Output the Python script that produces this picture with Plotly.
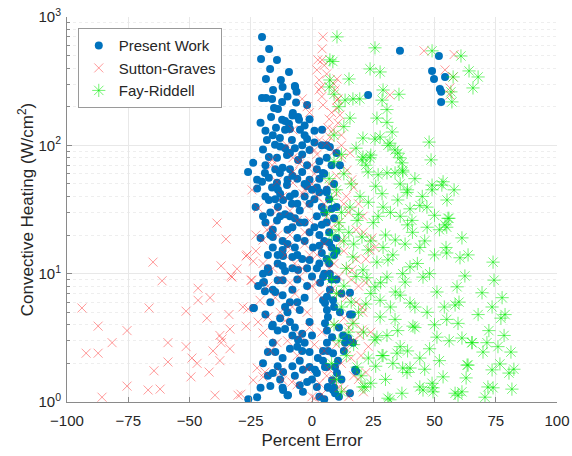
import plotly.graph_objects as go

present_work = [
    (-20.4,700),(-17.5,564),(-20.8,471),(-14.3,463),(-17.1,394),(-9.4,373),(-18.8,329),(-12.7,323),(-15.9,270),(-6.9,285),
    (-6.3,261),(-20.4,234),(-18.8,234),(-16.3,230),(-12.2,218),(-6.5,216),(-2,206),(-15.5,195),(-13.9,192),(-7.8,179),
    (-16.7,166),(-12.2,158),(-5.7,166),(-5.3,158),(-9.4,147),(-14.7,137),(-11,132),(-9,134),(-4.9,132),(4.1,132),
    (-18.4,110),(-13.1,114),(-8.2,110),(-2,112),(-15.1,101),(-11,95),(-20,93),(-17.6,81),(-24,73),(-14.3,80),
    (-10.2,84),(-26.1,62),(-19.2,61),(-17.6,56),(-22.4,54),(-13.1,61),(-14.3,51),(-16.3,47),(-13.9,45),(-10.2,49),
    (-22.4,46),(-17.6,37.5),(-11.8,37.5),(-13.9,33),(-8.2,35),(-1,160),(-3,120),(1,105),(-7,290),(-8,171),(-11,155),
    (35.9,545),(51.8,497),(49,380),(49.8,329),(54.3,341),(52.2,275),(52.7,261),(52.7,218),(22.9,247),
    (-20.4,52),(-17,30),(-14.3,26),(-16,22),(-10,22),(-8,23),(-12,18),(-16,16),(-12,15.3),(-7,16),
    (-6,14),(-8,11),(-5.7,10.7),(-10,54),(-4,62),(-2,70),(-5.7,77),(-12,67),(-9,87),(-1,92),
    (-1,54),(2,47),(-1,35),(-5,31),(2,28),(-1,21),(3,20),(0.4,16),(4,14.5),(-1,12.8),(2,11),
    (-19,25),(-21,19),(-18,14),(-14,12),(-11,10.5),(-3,40),(-7,42),(-3,25),(-6,19),(-9,28),(-4,13),(0,9.5),
    (5,60),(6,45),(7,38),(5,30),(6,25),(7,21),(5,18),(8,16),(6,13),(7,12),(5,10),(8,9),(6,80),(4,100),(3,75),
    (-2,48),(-8,58),(-13,42),(-6,35),(-19,40),(-23,33),(-20,28),(-11,29),(1,38),(3,55),(8,70),(9,50),(10,33),
    (9,27),(10,19),(3,16.5),(9,14),(7.3,97),(10,87),(11.4,70),(4.5,61),(6,43),(8,32),(4,24),(7,17.5),(10,15),
    (-20,10),(-12,8.9),(-14,8.9),(-20,8.5),(-15,7.2),(-24,5.4),(-17,6),(-9,6),(-11,5.5),(-5,5.2),(-10,5),
    (-16,4),(-14,3.6),(-18,2.45),(-15,2.45),(-16,2.9),(-5.7,3.05),(-6,2.7),(-3.7,1.78),(-1,1.87),(2,1.68),
    (-2,1.43),(-21,1.29),(-17,1.33),(-12,1.29),(-10,1.13),(-22.4,1.09),(-26,1.05),(-16,1.68),(-18,1.6),
    (-3.7,1.2),(2,1.31),(-1,2.45),(2.4,2.2),(-5,2.1),(-4,2.5),(0,3.3),(-1,4.2),(4.5,2.5),(5.3,1.87),(6.5,1.29),(1.2,1.78),
    (4.5,6.2),(6.1,6.6),(5.3,5.9),(6.1,5.2),(6.5,4.6),(5.3,4.1),(6.1,3.6),(8.2,3.2),(6.1,2.9),(6.5,2.5),
    (8.6,2.4),(4.5,2.1),(6.1,1.87),(9.4,1.87),(10.2,1.68),(8.2,1.48),(6.5,1.31),(8.6,1.24),(9.4,1.17),(15.5,1.17),
    (13.5,2.9),(16.3,4.8),(16.7,2.9),(17.6,1.78),(15.5,7.1),(3.3,8.5),(4.5,9.4),(7.3,10),(11.4,5.0),(8.6,6.2),
    (7.3,7.5),(12.7,3.3),(10.6,2.1),(-8,1.9),(-12,2.2),(-7,3.8),(-3,6.5),(-8,7.5),(-2,8),(-6,9),(-20,2),(-13,1.5),
    (18,1.74),(14.7,3.15),(15.5,4.8),(-23.7,5.4),(-19.6,8.6),(-19.2,7.3),(-16.3,3.9),(-11.8,1.71),(-9.8,1.13),
    (-11.8,1.24),(-17.6,10.3),(-16,19.3),(-11.8,13.7),(-9,4.2),(-4,3.4),
    (-21,150),(-19,130),(-16,120),(-13,98),(-7,95),(-4,85),(-19,70),(-15,65),(-9,65),(-6,55),(-3,50),(0,45),
    (-15,38),(-9,40),(-5,25),(-13,28),(-17,20),(-7,27),(-10,17),(-14,14),(-3,18),(-2,11),(-8,13.5),(-12,11.5),
    (-18,11),(-22,8),(-16,7.5),(-12,6.8),(-6,6),(-13,4.5),(-19,4.8),(-8,3.3),(-11,3.7),(-3,2.9),(-9,2.6),
    (-14,1.9),(-7,1.6),(-5,1.35),(0,1.5),(3,1.1),(5,1.05),(9,1.3),(11,1.1),(12,1.5),(13,2.5),(11,3.8),(9,5.5),
    (12,7),(10,9),(3,12),(1,23),(4,33),(3,43),(2,65),(6,100),(-4,100),(1,130),(-3,143),(-10,240),(-12,285),
]

sutton_graves = [
    (-93.9,5.4),(-87.3,3.9),(-92.2,2.4),(-87.3,2.4),(-81.6,2.9),(-75.5,3.6),(-75.5,1.33),(-85.7,1.09),(-66.9,1.24),
    (-62,1.26),(-64.5,1.75),(-66.5,5.4),(-64.9,12.3),(-61.2,8.8),(-58.8,2.9),(-58.8,2.05),(-51.4,5.1),(-51.4,2.7),
    (-49.4,1.57),(-49,2.2),(-46.9,2.0),(-46.5,6.2),(-46.5,7.7),(-41.6,6.5),(-42.9,4.5),(-42,1.71),(-40.4,2.5),
    (-39.6,1.13),(-38.8,24.8),(-35.1,18.6),(-37.1,11.5),(-33.1,9.6),(-30.6,10.9),(-37.6,3.3),(-37.1,2.9),(-33.9,4.8),
    (-33.5,3.7),(-33.5,2.6),(-37.6,2.1),(-29,1.15),(-26.9,3.9),(-28.2,5.5),(-26.9,13.7),(-24.9,8.9),(-22.9,20),
    (-22.9,15),(-26.1,5.3),(-24.5,45),(-22,32.5),(-26.5,14),(-24,12.5),(-20,18.3),(-18.4,22),(-17,23),
    (-16.3,70),(-16.3,77),(-14.3,52),(-14.3,31),(-9,31),(-10.2,100),(-7.8,80),(-7.8,62),(-7.8,51),(-7.8,132),
    (-9.8,16.1),(-2.9,21),(-3.7,42),(-5,77),(1,92),(-4,230),(-2,200),
    (-22.4,1.84),(-19.2,1.71),(-24,1.48),(-20,1.57),(-30.2,1.13),(-13,1.71),(-12,1.48),(-8.2,1.43),(-6.1,1.36),
    (-4.9,3.3),(-20,3.45),(-14.3,2.9),(-18,4.6),(-21.2,6.2),(-9,8.5),(2,8.5),(1.2,1.07),(-11,4.3),(-15,6.5),
    (-24.5,8.9),(-32.7,9.4),(-36.7,3.1),
    (4.5,700),(4.1,565),(2.4,463),(4.1,463),(2,387),(2.9,323),(3.7,285),(2.9,270),(10.2,329),(9.4,270),(10.6,230),
    (4.5,206),(10.2,195),(11.4,172),(10.6,149),(8.6,132),(6.5,137),(7.3,116),(6.1,104),(5,420),(6,360),(9,300),
    (4,240),(10.2,225),(8,180),(7,160),(-1,180),
    (31.8,247),(45.7,545),(58,510),(54.3,387),(57.6,341),(56.3,280),(56.3,247),
    (14.3,64),(16.3,54),(15.5,87),(17,47),(14,40),(20.8,28),(24.5,19),(23.7,15.3),(25.7,16),(22,13),(20.8,5),
    (19.6,3.3),(17,3),(12,100),(12,80),(10,58),(13,35),(11,25),(15,30),(18,22),(12,18),(9,12),(14,11),(16,9),
    (11,7),(18,6),(13,4.5),(15,3.8),(10,2.8),(20,2.3),(12,2),(17,1.6),(9,1.5),(13,1.25),(21,1.2),(0,1.1),(3,1.4),
    (6,1.6),(1,2.8),(4,3.5),(-2,5),(3,6.8),(0,8),(-5,9.5),(7,11),(2,14),(5,17),(-1,26),(5,35),(-3,45),(1,60),
    (-5,72),(2,85),(-1,14),(-7,12),(-11,14),(-14,20),(-3,17),(0,50),(2,40),(6,28),(8,23),(-8,5.5),(-13,5),
    (-18,8),(-16,11),(-20,12),(-22,4.2),(-17,2.5),(-10,3),(-6,2.3),(-2,1.8),(4,1.15),(7,1.8),(11,1.3),(15,1.1),
    (19,1.5),(22,1.7),(16,2.2),(23,2.7),(20.4,5.5),(20.4,3.65),(16.3,10.7),(18,13),(14,6.5),(17,4.2),(9,4),
    (11,9.5),(8,7.5),(19,8),(13,15),(10,42),(7,50),(12,120),(9,90),(3,110),(0,70),(-2,34),(-6,26),(-12,40),
    (-9,20),(-4,11),(-13,9),(-7,7),(-1,3.8),(5,2.5),(14,2.6),(24,3.5),(22,8.5),(21,21),(19,35),
]

fay_riddell = [
    (10.2,700),(25.7,575),(7.3,463),(8.5,450),(23.7,394),(27.8,373),(15.1,329),(7.3,323),(7,285),(49,545),
    (60.8,497),(64.1,380),(67.8,341),(65.7,280),(57.6,341),(56.7,261),(57.1,218),(29,270),(35.5,250),(28.6,225),
    (30.6,190),(16.7,230),(19.5,230),(13.5,225),(9,250),(15.5,163),(26.5,163),(30.6,151),(32.7,127),(27.8,116),
    (20.8,114),(25.7,112),(47.8,106),(48.6,77),(31.8,104),(33.9,92),(35.9,80),(37.1,62),(33.9,61),(23.7,80),
    (20.4,77),(22.9,62),(53.5,52),(49,49),(55.1,37.5),(46.9,33),(55.5,27),(38.8,43),(40.8,26),(11,200),(13,140),
    (9,120),(18,95),(12,85),(24,84),(31,100),(35,87),(36.7,73),(30.6,61),(37,64),(20.8,81),(27,59),(39,45),
    (44,34),(49,45),(53,49),(50,28.5),(47,23),(52,22),(55,23),(44,16),(50,14),(55,14.5),(40,11.3),(31,12.8),
    (34,18.3),(39,24),(32,30),(35,37.5),(28.6,42),(19.6,40),(15.5,33),(18.4,26),(25,25),(20.4,19.3),(22.9,15.3),
    (16.7,13.5),(26.5,12.3),(20.8,10.7),(14,11),(11,25),(13,60),(16,50),(10,45),(12,30),(8,20),(10,15),(22,70),
    (26,48),(29,33),(30,20),(36,28),(42,55),(45,40),(58,45),
    (55.9,27),(54.3,24),(61.2,19),(54.7,16),(63.7,14),(60.4,13.3),(73.9,12.3),(74.3,8.9),(62.4,9.6),(59.2,7.9),
    (69.4,7.1),(77.6,6.5),(73.5,5.5),(58.4,5.7),(60,6),(78.8,4.8),(77.1,4.5),(67.8,4.8),(59.6,4.1),(72.2,3.6),
    (78.4,3.3),(65.3,2.9),(71.4,2.9),(75.9,2.7),(69.8,2.45),(81.2,2.45),(63.3,1.94),(76.7,1.98),(73.5,1.78),
    (82.4,1.8),(80.4,1.68),(53.5,1.57),(62.9,1.54),(71.8,1.31),(73.9,1.29),(81.6,1.26),(61.2,1.2),(59.6,1.13),(70.6,1.09),
    (22.4,9.3),(30.6,9.4),(38,8.6),(45.3,9.4),(51,7.2),(36,6.8),(42,3.8),(40,5.9),(27.8,4.6),(25.7,3.05),(36,2.7),
    (39,2.5),(28.6,2.3),(40,1.84),(37,1.84),(36.7,1.17),(31,1.07),(44,1.31),(49.4,1.29),(52,2.1),(51,3.2),(55,4.4),
    (16.7,4.1),(20.8,1.31),(18.4,1.87),(27.8,6.2),(25.7,7.9),(21.6,1.31),(31.8,1.04),(29,2.3),(34.7,2.4),(38.8,1.7),
    (45.3,1.24),(49.4,1.2),(49,1.4),(58.4,1.17),(63.7,1.94),(61.2,3.15),(65.3,2.9),(26.5,3.2),(30.6,3.3),(33.9,4.4),
    (41.2,3.9),(42,5.5),(47,5),(50,4),(54,5.5),(48,2.6),(46,1.8),(44,2.2),(56,3),
    (8,9),(10,7),(12,5.5),(9,4),(11,3),(8,2),(10,1.5),(12,1.2),(14,2.3),(15,3.5),(13,8),(16,6),(18,9.5),(19,5),
    (21,3.5),(23,2.2),(22,5.8),(24,7),(17,2.8),(20,1.6),(24,1.4),(26,1.9),(28,8.5),(32,5.5),(34,7.2),(33,2),
    (30,1.5),(35,3.6),(7,13),(6,30),(7,55),(9,75),(8,38),(11,22),(17,17),(15,21),(13,18),(19,29),(23,36),(27,28),
    (24,18),(29,16),(33,14),(37,10),(43,12),(46,18),(48,10),(38,17),(41,21),(36,50),(40,32),
]

x_ticks = [-100, -75, -50, -25, 0, 25, 50, 75, 100]
y_ticks = [1, 10, 100, 1000]
y_tick_text = ["10<sup>0</sup>", "10<sup>1</sup>", "10<sup>2</sup>", "10<sup>3</sup>"]
y_minor = [m * d for d in (1, 10, 100) for m in range(2, 10)]

def split(pts):
    return [p[0] for p in pts], [p[1] for p in pts]

fig = go.Figure()
bx, by = split(present_work)
fig.add_trace(go.Scatter(x=bx, y=by, mode="markers", name="Present Work",
                         marker=dict(symbol="circle", size=8, color="#0072BD", line=dict(width=0))))
rx, ry = split(sutton_graves)
red = "rgba(255,30,30,0.45)"
fig.add_trace(go.Scatter(x=rx, y=ry, mode="markers", name="Sutton-Graves",
                         marker=dict(symbol="x-thin-open", size=9, color=red, line=dict(width=1, color=red))))
gx, gy = split(fay_riddell)
green = "rgba(0,235,0,0.55)"
fig.add_trace(go.Scatter(x=gx, y=gy, mode="markers", name="Fay-Riddell",
                         marker=dict(symbol="asterisk-open", size=11, color=green, line=dict(width=1, color=green))))

axis_font = dict(family="Liberation Sans, Arial, sans-serif", size=15, color="#262626")
fig.update_layout(
    width=572, height=456,
    margin=dict(l=67, r=15, t=17, b=54),
    paper_bgcolor="white", plot_bgcolor="white",
    font=dict(family="Liberation Sans, Arial, sans-serif", color="#262626"),
    showlegend=True,
    legend=dict(x=0.022, y=0.971, xanchor="left", yanchor="top",
                bgcolor="white", bordercolor="#9a9a9a", borderwidth=1,
                font=dict(size=15, color="#262626"), tracegroupgap=0, itemwidth=30),
    xaxis=dict(range=[-100, 100], tickvals=x_ticks, ticks="inside", ticklen=5, tickcolor="#8a8a8a",
               showline=True, linecolor="#8a8a8a", linewidth=1, mirror=False, automargin=False,
               showgrid=True, gridcolor="#e8e8e8", zeroline=False, tickfont=axis_font, ticklabelstandoff=5,
               title=dict(text="Percent Error", font=dict(size=17, color="#262626"), standoff=6)),
    yaxis=dict(type="log", range=[0, 3], tickvals=y_ticks, ticktext=y_tick_text,
               ticks="inside", ticklen=5, tickcolor="#8a8a8a",
               showline=True, linecolor="#8a8a8a", linewidth=1, mirror=False, automargin=False,
               showgrid=True, gridcolor="#e8e8e8", zeroline=False, tickfont=axis_font, ticklabelstandoff=2,
               minor=dict(tickvals=y_minor, ticks="inside", ticklen=3, tickcolor="#8a8a8a",
                          showgrid=True, gridcolor="#eeeeee", griddash="dot"),
               title=dict(text="Convective Heating (W/cm<sup>2</sup>)", font=dict(size=17, color="#262626"), standoff=0)),
)
fig.write_html("out.html", config={"displayModeBar": False},
               post_script="document.body.style.margin='0';")
